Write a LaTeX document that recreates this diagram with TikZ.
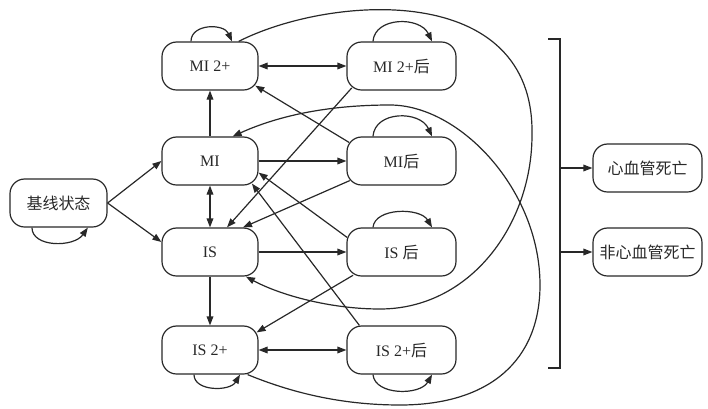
\documentclass[tikz,border=0pt]{standalone}
\usepackage{fontspec}
\setmainfont{Liberation Serif}
\newfontfamily\cjk{Noto Sans CJK SC}
\usetikzlibrary{arrows.meta, positioning}
\definecolor{inkgray}{RGB}{40,40,40}

\begin{document}
\begin{tikzpicture}[
    x=0.75pt, y=-0.75pt,
    inkgray, line width=0.9pt,
    >={Triangle[length=6.75pt, width=5pt]},
    statebox/.style={
        draw, rounded corners=11pt,
        minimum width=72pt, minimum height=36pt, inner sep=2pt,
        font=\fontsize{12}{14}\selectfont
    },
    widebox/.style={statebox, minimum width=81.75pt}
]
\useasboundingbox (0,0) rectangle (708,408);

% States
\node[statebox, minimum width=72.75pt] (Base) at (58.5,203) {\cjk 基线状态};
\node[statebox] (MITwo) at (210,66) {MI 2+};
\node[widebox] (MITwoPost) at (401.5,66) {MI 2+{\cjk 后}};
\node[statebox] (MI) at (210,161) {MI};
\node[widebox] (MIPost) at (401.5,161) {MI{\cjk 后}};
\node[statebox] (IS) at (210,252) {IS};
\node[widebox] (ISPost) at (401.5,252) {IS {\cjk 后}};
\node[statebox] (ISTwo) at (210,350) {IS 2+};
\node[widebox] (ISTwoPost) at (401.5,350) {IS 2+{\cjk 后}};
\node[widebox] (CVDeath) at (647.5,168) {\cjk 心血管死亡};
\node[widebox] (NonCVDeath) at (647.5,252) {\cjk 非心血管死亡};

% Straight transitions
\draw[->] (Base.east) -- (MI.west);
\draw[->] (Base.east) -- ([yshift=7.5pt]IS.west);
\draw[<->] (MITwo.east) -- (MITwoPost.west);
\draw[->] (MI.north) -- (MITwo.south);
\draw[<->] (MI.south) -- (IS.north);
\draw[->] (IS.south) -- (ISTwo.north);
\draw[<->] (ISTwo.east) -- (ISTwoPost.west);
\draw[->] (MI.east) -- (MIPost.west);
\draw[->] (IS.east) -- (ISPost.west);

% Cross transitions
\draw[->] ([xshift=2pt, yshift=-4.5pt]MIPost.north west) -- ([xshift=-2.5pt, yshift=3.75pt]MITwo.south east);
\draw[->] ([xshift=4pt, yshift=2pt]MITwoPost.south west) -- ([xshift=12.75pt]IS.north);
\draw[->] ([xshift=2.5pt, yshift=3.75pt]MIPost.south west) -- ([xshift=24.75pt]IS.north);
\draw[->] ([xshift=0.5pt, yshift=-7.5pt]ISPost.north west) -- ([yshift=9.75pt]MI.south east);
\draw[->] ([xshift=9.75pt]ISTwoPost.north west) -- ([xshift=-5pt, yshift=1.5pt]MI.south east);
\draw[->] ([xshift=5pt, yshift=1pt]ISPost.south west) -- ([xshift=-1.5pt, yshift=-5.25pt]ISTwo.north east);

% Long curves
\draw[->] ([xshift=-15pt]MITwo.north east) .. controls (330,-5) and (535,-20) .. (532,135)
    .. controls (532,225) and (470,309) .. (380,309)
    .. controls (330,309) and (280,295) .. ([xshift=-9.5pt]IS.south east);
\draw[->] ([xshift=-8.25pt]ISTwo.south east) .. controls (290,392) and (340,405) .. (400,405)
    .. controls (490,405) and (540,360) .. (540,285)
    .. controls (540,190) and (460,105) .. (390,105)
    .. controls (330,105) and (280,115) .. ([xshift=-19.5pt]MI.north east);

% Self loops
\draw[->] ([xshift=-14.25pt]MITwo.north) .. controls +(0,-18) and +(-8,-18) .. ([xshift=16.5pt]MITwo.north);
\draw[->] ([xshift=-21.4pt]MITwoPost.north) .. controls +(2,-25) and +(-12,-25) .. ([xshift=22.9pt]MITwoPost.north);
\draw[->] ([xshift=-21.4pt]MIPost.north) .. controls +(2,-26) and +(-12,-26) .. ([xshift=22.9pt]MIPost.north);
\draw[->] ([xshift=-21.4pt]ISPost.north) .. controls +(2,-20) and +(-12,-20) .. ([xshift=22.9pt]ISPost.north);
\draw[->] ([xshift=-21.4pt]ISTwoPost.south) .. controls +(2,21) and +(-12,21) .. ([xshift=22.9pt]ISTwoPost.south);
\draw[->] ([xshift=-12pt]ISTwo.south) .. controls +(0,17) and +(-10,17) .. ([xshift=22.5pt]ISTwo.south);
\draw[->] ([xshift=-19.9pt]Base.south) .. controls +(0,20) and +(-14,20) .. ([xshift=22pt]Base.south);

% Outcomes
\coordinate (BarTop) at (560,39);
\coordinate (BarBottom) at (560,368);
\draw ([xshift=-9pt]BarTop) -- (BarTop) -- (BarBottom) -- ([xshift=-9pt]BarBottom);
\draw[->] (BarTop |- CVDeath) -- (CVDeath.west);
\draw[->] (BarTop |- NonCVDeath) -- (NonCVDeath.west);

\end{tikzpicture}
\end{document}
